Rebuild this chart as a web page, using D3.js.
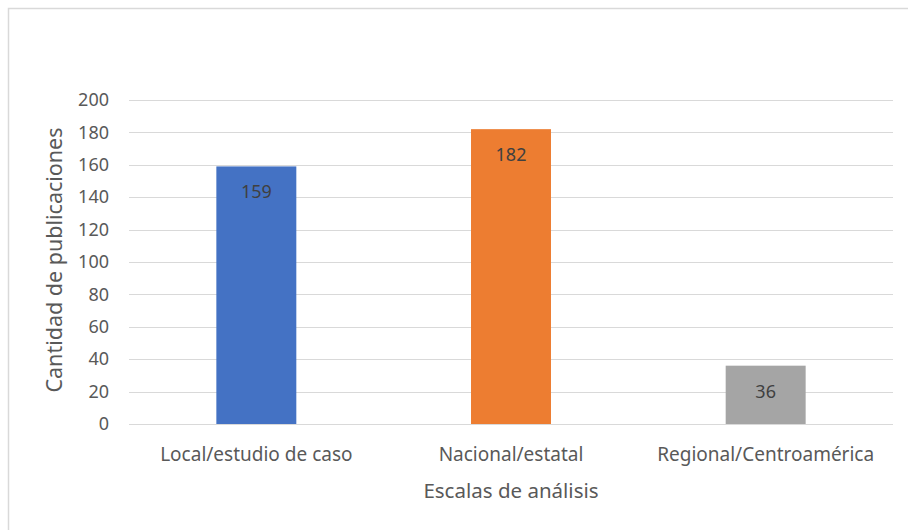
<!DOCTYPE html>
<html>
<head>
	<meta charset=utf-8>
	<title>Escalas de análisis</title>
	<script src="https://d3js.org/d3.v7.min.js"></script>
	<style type="text/css">
		body{
			margin: 0;
			background: #fff;
		}
		text{
			font-family: "Noto Sans", "Open Sans", sans-serif;
			fill: #595959;
		}
	</style>
</head>
<body>
	<svg id="chart" width="908" height="530"></svg>

	<script type="text/javascript">
		const categories = ['Local/estudio de caso', 'Nacional/estatal', 'Regional/Centroamérica'];
		const values = [159, 182, 36];
		const barColors = ['#4472C4', '#ED7D31', '#A5A5A5'];
		const yTicks = [0, 20, 40, 60, 80, 100, 120, 140, 160, 180, 200];
		const xTitle = 'Escalas de análisis';
		const yTitle = 'Cantidad de publicaciones';

		const svg = d3.select('#chart');
		const plotL = 129, plotR = 893, plotT = 100, plotB = 424;

		// chart frame (right and bottom edges fall off the picture)
		svg.append('rect')
			.attr('x', 8.5).attr('y', 8.5)
			.attr('width', 920).attr('height', 540)
			.attr('fill', 'none')
			.attr('stroke', '#d9d9d9')
			.attr('stroke-width', 1.5);

		const x = d3.scaleBand()
			.domain(categories)
			.range([plotL, plotR])
			.paddingInner(0.686)
			.paddingOuter(0.343);

		const y = d3.scaleLinear()
			.domain([0, 200])
			.range([plotB, plotT]);

		// gridlines
		svg.append('g')
			.selectAll('line')
			.data(yTicks)
			.enter()
			.append('line')
			.attr('x1', plotL).attr('x2', plotR)
			.attr('y1', d => Math.round(y(d)) + 0.5)
			.attr('y2', d => Math.round(y(d)) + 0.5)
			.attr('stroke', '#d9d9d9')
			.attr('stroke-width', 1);

		// y axis labels
		const yAxis = svg.append('g')
			.attr('transform', `translate(${plotL - 20}, 0)`)
			.call(d3.axisLeft(y).tickValues(yTicks).tickSize(0).tickPadding(0));
		yAxis.select('.domain').remove();
		yAxis.selectAll('text')
			.attr('font-size', 18)
			.attr('fill', '#595959')
			.style('font-family', '"Noto Sans", sans-serif');

		// bars
		svg.append('g')
			.selectAll('rect')
			.data(values)
			.enter()
			.append('rect')
			.attr('x', (d, i) => x(categories[i]))
			.attr('y', d => y(d))
			.attr('width', x.bandwidth())
			.attr('height', d => y(0) - y(d))
			.attr('fill', (d, i) => barColors[i]);

		// value labels inside bar tops
		svg.append('g')
			.selectAll('text')
			.data(values)
			.enter()
			.append('text')
			.attr('x', (d, i) => x(categories[i]) + x.bandwidth() / 2)
			.attr('y', d => y(d) + 32)
			.attr('text-anchor', 'middle')
			.attr('font-size', 18)
			.style('fill', '#404040')
			.text(d => d);

		// x axis labels
		const xAxis = svg.append('g')
			.attr('transform', `translate(0, ${plotB})`)
			.call(d3.axisBottom(x).tickSize(0).tickPadding(0));
		xAxis.select('.domain').remove();
		xAxis.selectAll('text')
			.attr('dy', 0)
			.attr('y', 37)
			.attr('font-size', 19)
			.attr('fill', '#595959')
			.style('font-family', '"Noto Sans", sans-serif');

		// axis titles
		svg.append('text')
			.attr('x', (plotL + plotR) / 2)
			.attr('y', 498)
			.attr('text-anchor', 'middle')
			.attr('font-size', 20.5)
			.text(xTitle);

		svg.append('text')
			.attr('transform', `translate(62, ${(plotT + plotB) / 2 - 2}) rotate(-90)`)
			.attr('text-anchor', 'middle')
			.attr('font-size', 21.5)
			.text(yTitle);
	</script>
</body>
</html>
